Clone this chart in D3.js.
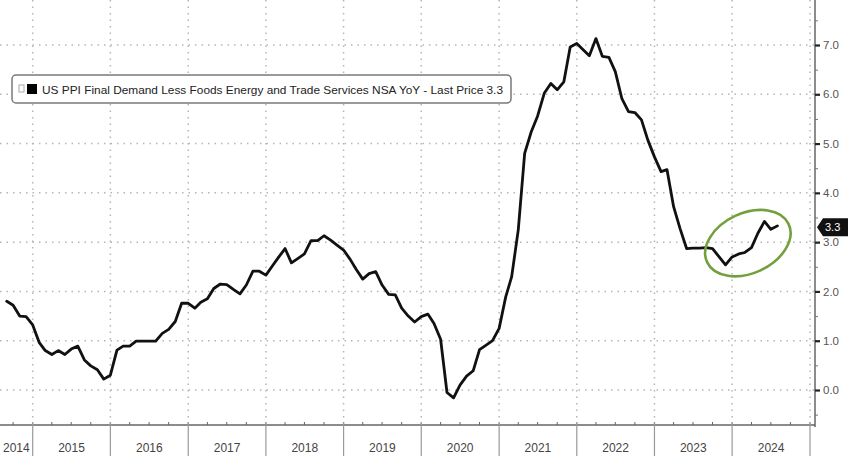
<!DOCTYPE html>
<html><head><meta charset="utf-8">
<script src="https://cdn.jsdelivr.net/npm/d3@7"></script>
<style>
body{margin:0;background:#fff;}
svg{display:block;font-family:"Liberation Sans",Arial,sans-serif;}
</style>
</head><body>
<svg id="chart" width="848" height="456"></svg>
<script>
// ---- data ----
const firstMonth = [2014, 7]; // Aug 2014 (year, zero-based month)
const ppiYoY = [
  1.80, 1.72, 1.50, 1.49, 1.32,                                   // Aug-Dec 2014
  0.96, 0.80, 0.72, 0.80, 0.72, 0.83, 0.89, 0.61, 0.49, 0.41, 0.22, 0.30, // 2015
  0.81, 0.89, 0.89, 0.99, 0.99, 0.99, 0.99, 1.15, 1.23, 1.39, 1.76, 1.76, // 2016
  1.66, 1.78, 1.85, 2.06, 2.15, 2.14, 2.04, 1.95, 2.13, 2.41, 2.41, 2.33, // 2017
  2.52, 2.69, 2.87, 2.58, 2.67, 2.76, 3.03, 3.03, 3.13, 3.04, 2.94, 2.84, // 2018
  2.65, 2.45, 2.25, 2.36, 2.40, 2.13, 1.94, 1.93, 1.66, 1.50, 1.38, 1.49, // 2019
  1.54, 1.35, 1.03, -0.05, -0.16, 0.10, 0.28, 0.39, 0.82, 0.91, 1.00, 1.25, // 2020
  1.89, 2.30, 3.25, 4.80, 5.24, 5.56, 6.02, 6.22, 6.09, 6.25, 6.96, 7.03, // 2021
  6.90, 6.78, 7.13, 6.77, 6.75, 6.46, 5.91, 5.65, 5.63, 5.48, 5.07, 4.73, // 2022
  4.43, 4.47, 3.72, 3.28, 2.87, 2.88, 2.88, 2.89, 2.87, 2.70, 2.54, 2.70, // 2023
  2.76, 2.79, 2.89, 3.18, 3.42, 3.26, 3.33                          // Jan-Jul 2024
];
const yTicks = [0, 1, 2, 3, 4, 5, 6, 7];
const yMinorTicks = [-0.5, 0.5, 1.5, 2.5, 3.5, 4.5, 5.5, 6.5, 7.5];
const years = [2014, 2015, 2016, 2017, 2018, 2019, 2020, 2021, 2022, 2023, 2024];
const yearLabels = ["2014", "2015", "2016", "2017", "2018", "2019", "2020", "2021", "2022", "2023", "2024"];
const legendText = "US PPI Final Demand Less Foods Energy and Trade Services NSA YoY - Last Price 3.3";
const lastPrice = 3.3;

// ---- layout ----
const W = 848, H = 456;
const plotR = 815, plotB = 425;
const svg = d3.select("#chart");

// month-end dates for each observation
const series = ppiYoY.map((v, i) => ({
  date: new Date(firstMonth[0], firstMonth[1] + i + 1, 1),
  value: v
}));

const x = d3.scaleTime()
  .domain([new Date(2015, 0, 1), new Date(2025, 0, 1)])
  .range([32.7, 810]);
const y = d3.scaleLinear().domain([0, 7]).range([390, 45]);

// clip
svg.append("defs").append("clipPath").attr("id", "plotclip")
  .append("rect").attr("x", 0).attr("y", 0).attr("width", plotR).attr("height", plotB);

const grid = svg.append("g").attr("clip-path", "url(#plotclip)");
const gridColor = "#b5b5b5";
// horizontal dotted grid
grid.selectAll("line.h").data(yTicks).join("line")
  .attr("x1", 0).attr("x2", plotR)
  .attr("y1", d => y(d)).attr("y2", d => y(d))
  .attr("stroke", gridColor).attr("stroke-width", 1.5)
  .attr("stroke-dasharray", "1.5,5");
// vertical dotted grid at year boundaries
const yearBounds = years.slice(1).map(yr => new Date(yr, 0, 1)).concat([new Date(2025, 0, 1)]);
grid.selectAll("line.v").data(yearBounds).join("line")
  .attr("x1", d => x(d)).attr("x2", d => x(d))
  .attr("y1", 0).attr("y2", plotB)
  .attr("stroke", gridColor).attr("stroke-width", 1.5)
  .attr("stroke-dasharray", "1.5,5");

// line
const line = d3.line().x(d => x(d.date)).y(d => y(d.value)).curve(d3.curveLinear);
svg.append("g").attr("clip-path", "url(#plotclip)")
  .append("path").datum(series)
  .attr("d", line).attr("fill", "none")
  .attr("stroke", "#111").attr("stroke-width", 2.8)
  .attr("stroke-linejoin", "round").attr("stroke-linecap", "round");

// highlight ellipse
svg.append("ellipse")
  .attr("cx", 0).attr("cy", 0).attr("rx", 45).attr("ry", 30)
  .attr("transform", `translate(${x(new Date(2024, 2, 15))},${y(2.98)}) rotate(-25)`)
  .attr("fill", "none").attr("stroke", "#73a03c").attr("stroke-width", 2.6);

// right axis
const axisColor = "#666";
svg.append("line").attr("x1", plotR).attr("x2", plotR).attr("y1", 0).attr("y2", plotB + 2)
  .attr("stroke", axisColor).attr("stroke-width", 1.5);
const yAxis = d3.axisRight(y).tickValues(yTicks).tickFormat(d3.format(".1f"))
  .tickSize(5).tickPadding(3);
const gy = svg.append("g").attr("transform", `translate(${plotR},0)`).call(yAxis);
gy.select(".domain").remove();
gy.selectAll(".tick line").attr("stroke", "#222").attr("stroke-width", 2.2);
gy.selectAll(".tick text").attr("fill", "#555").attr("font-size", 11.5)
  .attr("font-family", "'Liberation Sans',Arial,sans-serif");
const yMinor = d3.axisRight(y).tickValues(yMinorTicks).tickSize(3).tickFormat("");
const gym = svg.append("g").attr("transform", `translate(${plotR},0)`).call(yMinor);
gym.select(".domain").remove();
gym.selectAll(".tick line").attr("stroke", "#777").attr("stroke-width", 1);

// last price tag
const ty = y(lastPrice);
svg.append("path")
  .attr("d", `M${plotR + 2},${ty} L${plotR + 8},${ty - 9} L${W},${ty - 9} L${W},${ty + 9} L${plotR + 8},${ty + 9} Z`)
  .attr("fill", "#111");
svg.append("text").attr("x", plotR + 10).attr("y", ty + 4)
  .attr("fill", "#fff").attr("font-size", 11).text(d3.format(".1f")(lastPrice));

// bottom axis
svg.append("line").attr("x1", 0).attr("x2", plotR).attr("y1", plotB).attr("y2", plotB)
  .attr("stroke", axisColor).attr("stroke-width", 1.5);
const quarterTicks = d3.timeMonth.every(3).range(new Date(2014, 6, 1), new Date(2025, 0, 1))
  .filter(d => d.getMonth() !== 0 && x(d) >= 0);
svg.selectAll("line.qt").data(quarterTicks).join("line")
  .attr("x1", d => x(d)).attr("x2", d => x(d))
  .attr("y1", plotB - 3).attr("y2", plotB)
  .attr("stroke", "#666").attr("stroke-width", 1);
svg.selectAll("line.ysep").data(yearBounds).join("line")
  .attr("x1", d => x(d)).attr("x2", d => x(d))
  .attr("y1", plotB - 3).attr("y2", H)
  .attr("stroke", "#999").attr("stroke-width", 1.2);
svg.selectAll("text.yl").data(years).join("text")
  .attr("x", (d) => {
    const a = Math.max(0, x(new Date(d, 0, 1)));
    const b = x(new Date(d + 1, 0, 1));
    return (a + b) / 2;
  })
  .attr("y", 452).attr("text-anchor", "middle")
  .attr("font-size", 12).attr("fill", "#444")
  .text((d, i) => yearLabels[i]);

// legend
const lg = svg.append("g");
lg.append("rect").attr("x", 12).attr("y", 75).attr("width", 499).attr("height", 28)
  .attr("rx", 4).attr("fill", "#fff").attr("stroke", "#7a7a7a").attr("stroke-width", 1.5);
lg.append("rect").attr("x", 19).attr("y", 85).attr("width", 5).attr("height", 7)
  .attr("fill", "none").attr("stroke", "#aaa").attr("stroke-width", 1);
lg.append("rect").attr("x", 27).attr("y", 84).attr("width", 10).attr("height", 10)
  .attr("fill", "#000");
lg.append("text").attr("x", 42).attr("y", 93.5)
  .attr("font-size", 11.5).attr("fill", "#222")
  .attr("textLength", 461).attr("lengthAdjust", "spacingAndGlyphs")
  .text(legendText);
</script>
</body></html>
